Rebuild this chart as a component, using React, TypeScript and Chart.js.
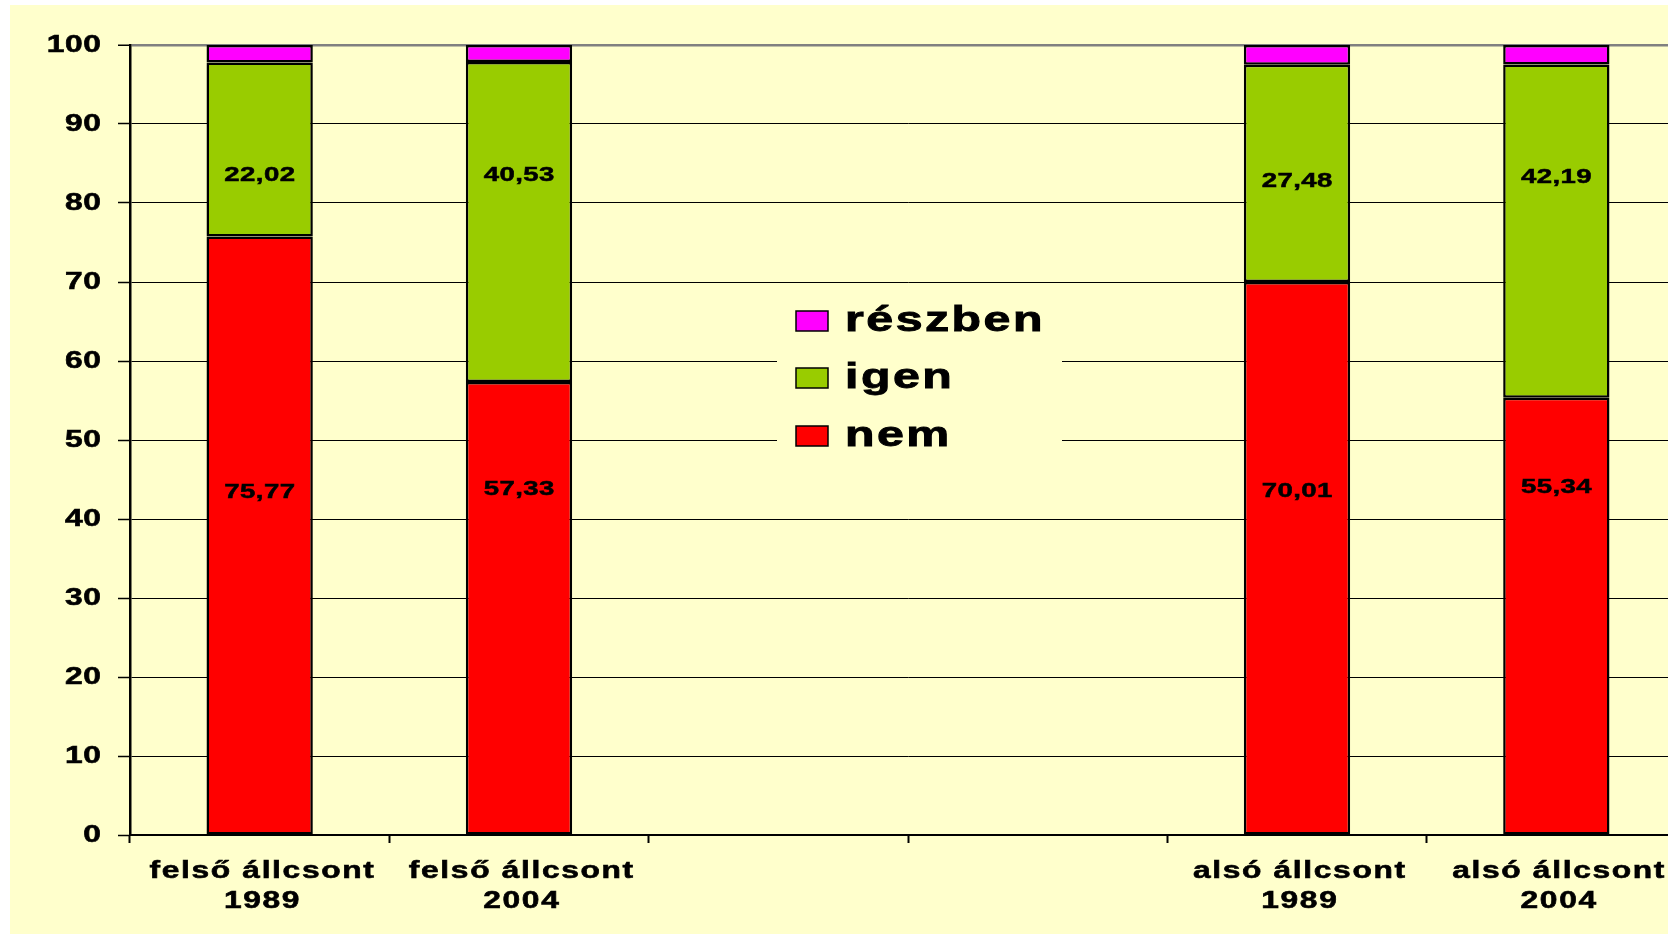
import { useEffect, useRef } from "react";
import { Chart, registerables } from "chart.js";

Chart.register(...registerables);

// ---- data ----
const categories: string[][] = [
  ["felső állcsont", "1989"],
  ["felső állcsont", "2004"],
  ["", ""],
  ["", ""],
  ["alsó állcsont", "1989"],
  ["alsó állcsont", "2004"],
];
const nemValues: (number | null)[] = [75.77, 57.33, null, null, 70.01, 55.34];
const igenValues: (number | null)[] = [22.02, 40.53, null, null, 27.48, 42.19];
const reszbenValues: (number | null)[] = [2.21, 2.14, null, null, 2.51, 2.47];
// value-axis height at which each printed label sits
const nemLabelAt: (number | null)[] = [43.4, 43.7, null, null, 43.5, 44.0];
const igenLabelAt: (number | null)[] = [83.5, 83.5, null, null, 82.7, 83.2];
const yTickValues = [0, 10, 20, 30, 40, 50, 60, 70, 80, 90, 100];
const seriesNames = ["nem", "igen", "részben"];
const seriesColors = ["#FF0000", "#99CC00", "#FF00FF"];

const FONT = '"Liberation Sans", Arial, Helvetica, sans-serif';
const SX = 1.38;

function drawStretched(
  ctx: CanvasRenderingContext2D,
  text: string,
  x: number,
  y: number,
  size: number,
  align: "left" | "center" | "right",
  ls: number,
  baseline: CanvasTextBaseline
) {
  ctx.save();
  ctx.font = `bold ${size}px ${FONT}`;
  (ctx as any).letterSpacing = `${ls}px`;
  ctx.textAlign = "left";
  ctx.textBaseline = baseline;
  ctx.fillStyle = "#000000";
  ctx.strokeStyle = "#000000";
  ctx.lineWidth = size / 40;
  const w = ctx.measureText(text).width - ls;
  ctx.translate(x, y);
  ctx.scale(SX, 1);
  let sx = 0;
  if (align === "center") sx = -w / 2;
  else if (align === "right") sx = -w;
  ctx.fillText(text, sx, 0);
  ctx.strokeText(text, sx, 0);
  ctx.restore();
}

const customPlugin = {
  id: "customDecor",
  beforeDraw(chart: any) {
    const ctx: CanvasRenderingContext2D = chart.ctx;
    ctx.save();
    ctx.fillStyle = "#FFFFFF";
    ctx.fillRect(0, 0, chart.width, chart.height);
    ctx.fillStyle = "#FFFFCC";
    ctx.fillRect(10, 5, chart.width - 10, chart.height - 5);
    ctx.restore();
  },
  afterDraw(chart: any) {
    const ctx: CanvasRenderingContext2D = chart.ctx;
    const xs = chart.scales.x;
    const ys = chart.scales.y;
    const area = chart.chartArea;

    // y tick labels
    yTickValues.forEach((v) => {
      drawStretched(ctx, String(v), 101, ys.getPixelForValue(v) + 1, 23, "right", 0.5, "middle");
    });

    // x category labels
    (chart.data.labels as string[][]).forEach((lab, i) => {
      const cx = xs.getPixelForValue(i);
      if (lab[0]) drawStretched(ctx, lab[0], cx + 2, area.bottom + 43, 23, "center", 1.2, "alphabetic");
      if (lab[1]) drawStretched(ctx, lab[1], cx + 2, area.bottom + 73, 23, "center", 1.2, "alphabetic");
    });

    // data labels
    const fmt = (v: number) => v.toFixed(2).replace(".", ",");
    nemValues.forEach((v, i) => {
      const at = nemLabelAt[i];
      if (v == null || at == null) return;
      drawStretched(ctx, fmt(v), xs.getPixelForValue(i), ys.getPixelForValue(at), 20, "center", 0.3, "middle");
    });
    igenValues.forEach((v, i) => {
      const at = igenLabelAt[i];
      if (v == null || at == null) return;
      drawStretched(ctx, fmt(v), xs.getPixelForValue(i), ys.getPixelForValue(at), 20, "center", 0.3, "middle");
    });

    // legend
    ctx.save();
    ctx.fillStyle = "#FFFFCC";
    ctx.fillRect(777, 292, 285, 170);
    ctx.restore();
    const rows = [2, 1, 0];
    const rowY = [321, 378, 436];
    rows.forEach((si, r) => {
      const cy = rowY[r];
      ctx.save();
      ctx.fillStyle = seriesColors[si];
      ctx.fillRect(796, cy - 10, 32, 20);
      ctx.strokeStyle = "#000000";
      ctx.lineWidth = 1.5;
      ctx.strokeRect(796, cy - 10, 32, 20);
      ctx.restore();
      drawStretched(ctx, seriesNames[si], 845, cy, 35, "left", 1.8, "middle");
    });
  },
};

export default function App() {
  const canvasRef = useRef<HTMLCanvasElement | null>(null);

  useEffect(() => {
    const canvas = canvasRef.current;
    if (!canvas) return;
    const seriesData = [nemValues, igenValues, reszbenValues];
    const chart = new Chart(canvas, {
      type: "bar",
      data: {
        labels: categories,
        datasets: seriesData.map((d, i) => ({
          label: seriesNames[i],
          data: d,
          backgroundColor: seriesColors[i],
          borderColor: "#000000",
          borderWidth: 2.5,
          borderSkipped: false,
          barPercentage: 0.41,
          categoryPercentage: 1,
        })),
      },
      options: {
        responsive: false,
        animation: false,
        devicePixelRatio: 1,
        layout: { padding: { left: 118, top: 45, right: 14, bottom: 91 } },
        plugins: {
          legend: { display: false },
          tooltip: { enabled: false },
          title: { display: false },
        },
        scales: {
          x: {
            stacked: true,
            offset: true,
            ticks: { display: false },
            grid: {
              offset: true,
              drawOnChartArea: false,
              drawTicks: true,
              tickLength: 8,
              tickColor: "#000000",
              tickWidth: 2,
            },
            border: { display: true, color: "#000000", width: 2 },
          },
          y: {
            stacked: true,
            min: 0,
            max: 100,
            ticks: { display: false, stepSize: 10 },
            grid: {
              drawOnChartArea: true,
              drawTicks: true,
              tickLength: 12,
              tickColor: "#000000",
              tickWidth: 1.5,
              color: (c: any) => (c.tick && c.tick.value === 100 ? "#808080" : "#000000"),
              lineWidth: (c: any) => (c.tick && c.tick.value === 100 ? 2.5 : 1),
            },
            border: { display: true, color: "#000000", width: 2.5 },
          },
        },
      },
      plugins: [customPlugin],
    });
    return () => chart.destroy();
  }, []);

  return (
    <div
      style={{
        position: "fixed",
        left: 0,
        top: 0,
        width: 1668,
        height: 934,
        overflow: "hidden",
        background: "#FFFFFF",
      }}
    >
      <canvas
        ref={canvasRef}
        width={1700}
        height={934}
        style={{ position: "absolute", left: 0, top: 0, width: 1700, height: 934 }}
      />
    </div>
  );
}
